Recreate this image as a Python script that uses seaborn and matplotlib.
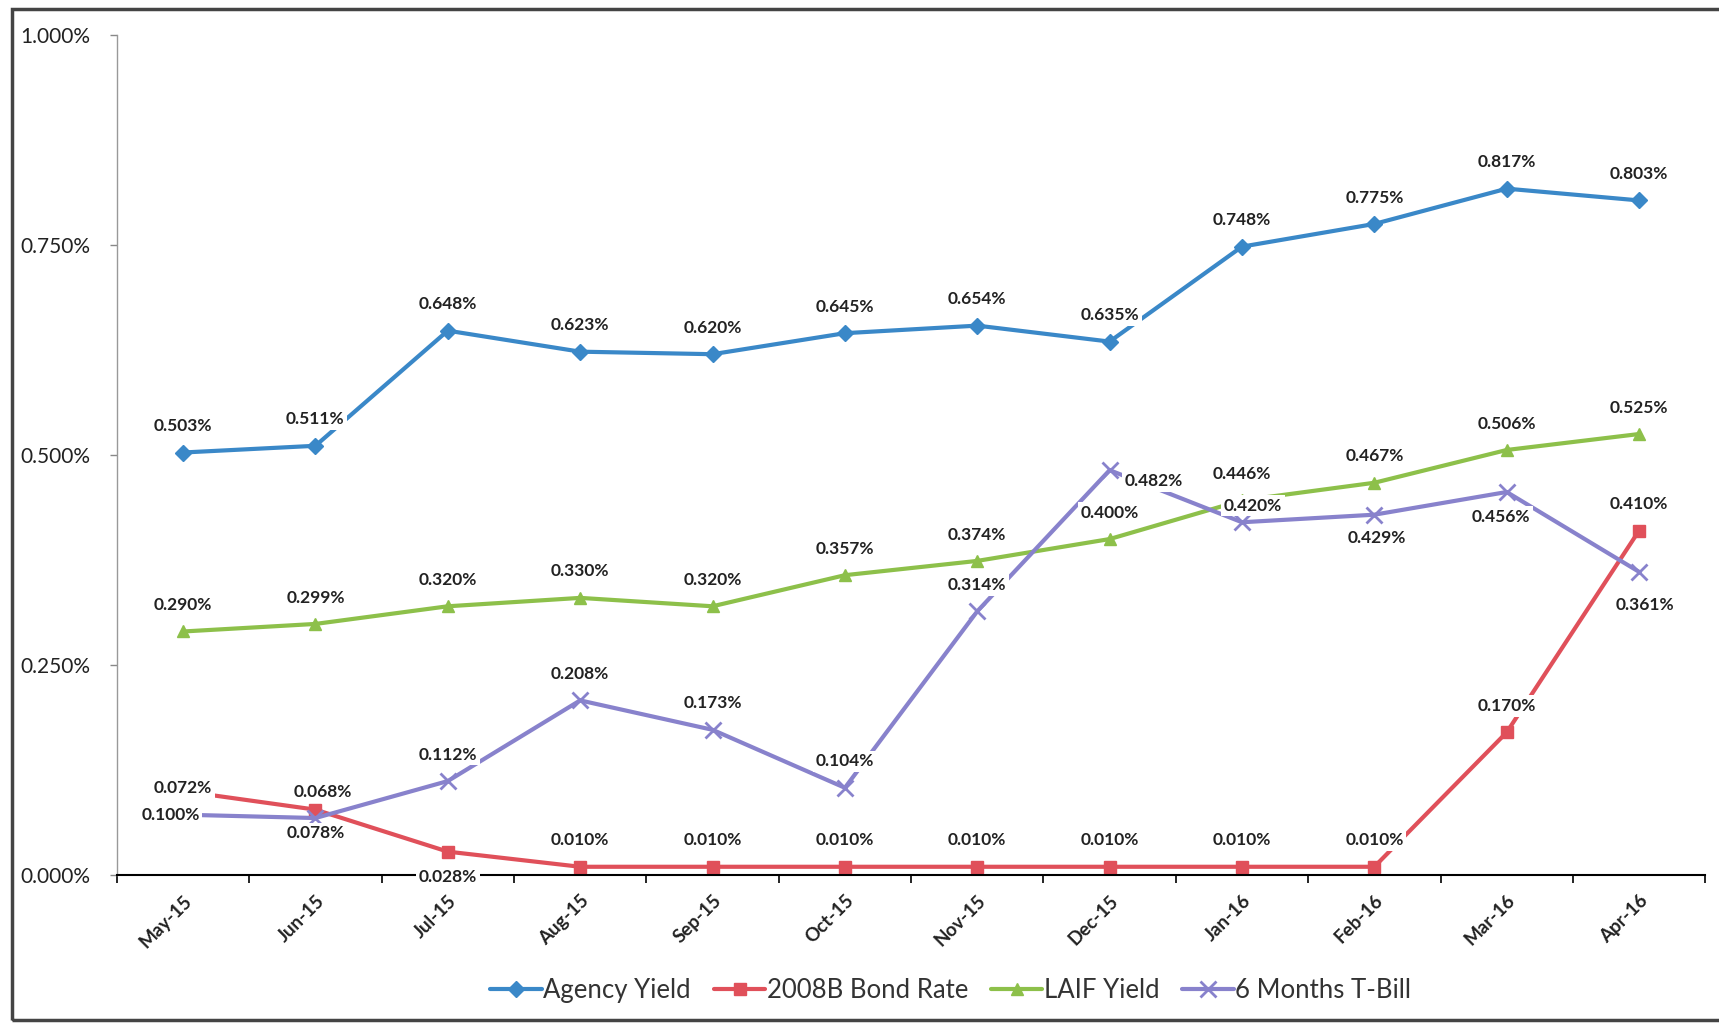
import matplotlib
matplotlib.use("Agg")
import matplotlib.pyplot as plt
import seaborn as sns
import pandas as pd
from matplotlib.patches import Rectangle


months = ['May-15', 'Jun-15', 'Jul-15', 'Aug-15', 'Sep-15', 'Oct-15',
          'Nov-15', 'Dec-15', 'Jan-16', 'Feb-16', 'Mar-16', 'Apr-16']
agency_yield = [0.503, 0.511, 0.648, 0.623, 0.620, 0.645, 0.654, 0.635, 0.748, 0.775, 0.817, 0.803]
bond_rate_2008b = [0.100, 0.078, 0.028, 0.010, 0.010, 0.010, 0.010, 0.010, 0.010, 0.010, 0.170, 0.410]
laif_yield = [0.290, 0.299, 0.320, 0.330, 0.320, 0.357, 0.374, 0.400, 0.446, 0.467, 0.506, 0.525]
tbill_6m = [0.072, 0.068, 0.112, 0.208, 0.173, 0.104, 0.314, 0.482, 0.420, 0.429, 0.456, 0.361]
y_ticks = [0.0, 0.25, 0.5, 0.75, 1.0]

# label offsets in points, one per point
up = (0, 19)
agency_offsets = [up] * 12
laif_offsets = [up] * 12
bond_offsets = [(-9, -17), (0, -17), (0, -18)] + [up] * 9
tbill_offsets = [up, (5, 19), up, up, up, up, up, (32, -8), (8, 12), (2, -17), (-4, -18), (4, -24)]

series = [
    ('Agency Yield', agency_yield, '#3A88C8', 'D', 8, agency_offsets),
    ('2008B Bond Rate', bond_rate_2008b, '#E0505A', 's', 8, bond_offsets),
    ('LAIF Yield', laif_yield, '#8DC04A', '^', 8, laif_offsets),
    ('6 Months T-Bill', tbill_6m, '#8882CC', 'x', 11, tbill_offsets),
]

sns.set_style("white")
plt.rcParams['font.family'] = ['Lato', 'DejaVu Sans']

fig = plt.figure(figsize=(17.19, 10.26), dpi=100)
ax = fig.add_axes([0.068, 0.147, 0.924, 0.819])

pos = list(range(len(months)))
for name, values, color, marker, msize, offsets in series:
    df = pd.DataFrame({'pos': pos, 'value': values})
    sns.lineplot(data=df, x='pos', y='value', ax=ax, color=color, linewidth=3,
                 marker=marker, markersize=msize, markeredgecolor=color,
                 markeredgewidth=2 if marker == 'x' else 1, label=name)
    for x, v, off in zip(pos, values, offsets):
        ax.annotate(f"{v:.3f}%", (x, v), xytext=off, textcoords='offset points',
                    ha='center', va='center', fontsize=12.5, fontweight='bold',
                    color='#222222', zorder=5,
                    bbox=dict(boxstyle='square,pad=0.15', fc='white', ec='none'))

ax.set_xlim(-0.5, 11.5)
ax.set_ylim(0, 1.0)
ax.set_yticks(y_ticks)
ax.set_yticklabels([f"{t:.3f}%" for t in y_ticks], fontsize=15, color='#222222')
ax.set_xticks(pos)
ax.set_xticklabels(months, rotation=45, ha='right', rotation_mode='anchor',
                   fontsize=13.5, fontweight='bold', color='#222222')
ax.set_xticks([p + 0.5 for p in range(-1, 12)], minor=True)
ax.tick_params(axis='x', which='major', length=0, pad=12)
ax.tick_params(axis='x', which='minor', length=6, width=1.2, color='black', direction='out', bottom=True)
ax.tick_params(axis='y', length=5, width=1, color='#888888', direction='out', left=True, pad=14)
ax.set_xlabel('')
ax.set_ylabel('')

for side in ['top', 'right']:
    ax.spines[side].set_visible(False)
ax.spines['left'].set_color('#999999')
ax.spines['left'].set_linewidth(1)
ax.spines['bottom'].set_color('black')
ax.spines['bottom'].set_linewidth(1.5)

leg = ax.legend(loc='upper center', bbox_to_anchor=(0.525, -0.095), ncol=4, frameon=False,
                fontsize=18.5, handlelength=2.0, handletextpad=0.05, columnspacing=0.9)
for text in leg.get_texts():
    text.set_color('#333333')

# scanned chart frame
fig.patches.append(Rectangle((0.007, 0.006), 1.1, 0.985, transform=fig.transFigure,
                             fill=False, ec='#444444', lw=2.5))

fig.savefig('out.png', dpi=100, facecolor='white')
